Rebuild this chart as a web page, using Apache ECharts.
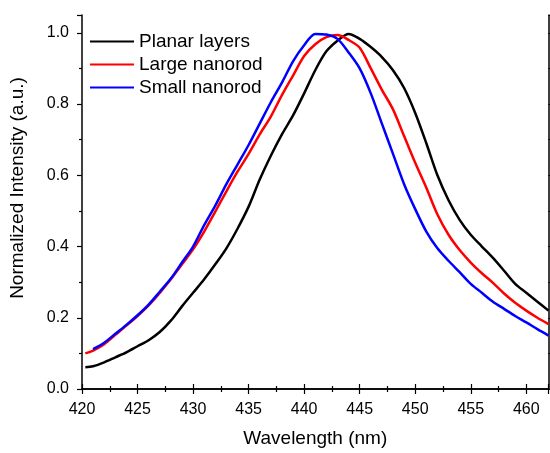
<!DOCTYPE html>
<html>
<head>
<meta charset="utf-8">
<script src="https://cdn.jsdelivr.net/npm/echarts@6/dist/echarts.min.js"></script>
<style>
  html, body { margin: 0; padding: 0; background: #fff; }
  #chart { width: 550px; height: 453px; }
</style>
</head>
<body>
<div id="chart"></div>
<script>
// wavelengths (nm)
const wavelengths = [420.3, 421, 422, 423, 424, 425, 426, 427, 428, 429, 430, 431, 432, 433, 434, 435, 436, 437, 438, 439, 440,
  441, 442, 443, 444, 445, 446, 447, 448, 449, 450, 451, 452, 453, 454, 455, 456, 457, 458, 459, 460, 461, 462]

const planarLayers = [0.061, 0.064, 0.075, 0.089, 0.103, 0.120, 0.137, 0.160, 0.192, 0.232, 0.270, 0.308, 0.350, 0.395, 0.450, 0.512, 0.588, 0.655, 0.715, 0.768, 0.830,
  0.895, 0.948, 0.978, 0.997, 0.983, 0.960, 0.932, 0.895, 0.845, 0.775, 0.690, 0.600, 0.530, 0.475, 0.433, 0.400, 0.368, 0.332, 0.295, 0.270, 0.245, 0.220]

const largeNanorod = [0.100, 0.108, 0.126, 0.152, 0.178, 0.205, 0.235, 0.270, 0.308, 0.350, 0.392, 0.442, 0.498, 0.555, 0.610, 0.660, 0.715, 0.765, 0.825, 0.880, 0.935,
  0.968, 0.988, 0.994, 0.980, 0.958, 0.900, 0.840, 0.785, 0.710, 0.635, 0.565, 0.490, 0.433, 0.390, 0.355, 0.325, 0.298, 0.268, 0.242, 0.220, 0.200, 0.182]

const smallNanorod = [null, 0.112, 0.130, 0.155, 0.180, 0.207, 0.237, 0.273, 0.310, 0.355, 0.400, 0.460, 0.515, 0.575, 0.630, 0.685, 0.745, 0.805, 0.860, 0.920, 0.965,
  0.997, 0.995, 0.983, 0.945, 0.900, 0.830, 0.745, 0.660, 0.575, 0.505, 0.442, 0.395, 0.360, 0.328, 0.295, 0.270, 0.245, 0.225, 0.205, 0.187, 0.168, 0.150]

const seriesNames = ['Planar layers', 'Large nanorod', 'Small nanorod']
const seriesColors = ['#000000', '#ff0000', '#0000ff']

function toPairs(values) {
  const out = []
  values.forEach((v, i) => {
    if (v !== null) out.push([wavelengths[i], v])
  })
  return out
}

const chart = echarts.init(document.getElementById('chart'))
const font = 'Arial, "Liberation Sans", sans-serif'

const axisLine = { lineStyle: { color: '#000', width: 1.5 } }
const tick = { show: true, length: 5, lineStyle: { color: '#000', width: 1.2 } }
const minor = { show: true, splitNumber: 2, length: 3, lineStyle: { color: '#000', width: 1.2 } }

const option = {
  backgroundColor: '#fff',
  animation: false,
  textStyle: { fontFamily: font },
  grid: { left: 82, right: 1.5, top: 15, bottom: 61 },
  legend: {
    orient: 'vertical',
    left: 84,
    top: 27,
    itemWidth: 44,
    itemHeight: 14,
    itemGap: 4,
    itemStyle: { opacity: 0 },
    textStyle: { fontSize: 19, color: '#000', fontFamily: font },
    data: seriesNames
  },
  xAxis: [
    {
      type: 'value',
      min: 420,
      max: 462,
      interval: 5,
      name: 'Wavelength (nm)',
      nameLocation: 'middle',
      nameGap: 40,
      nameTextStyle: { fontSize: 19, color: '#000' },
      axisLine: axisLine,
      axisTick: tick,
      minorTick: minor,
      splitLine: { show: false },
      axisLabel: { fontSize: 16, color: '#000', margin: 13, showMaxLabel: false }
    },
    {
      type: 'value',
      position: 'top',
      min: 420,
      max: 462,
      interval: 5,
      axisLine: axisLine,
      axisTick: tick,
      minorTick: minor,
      splitLine: { show: false },
      axisLabel: { show: false }
    }
  ],
  yAxis: [
    {
      type: 'value',
      min: 0,
      max: 1.05,
      interval: 0.2,
      name: 'Normalized Intensity (a.u.)',
      nameLocation: 'middle',
      nameGap: 55,
      nameTextStyle: { fontSize: 19, color: '#000', padding: [0, 0, 0, 28] },
      axisLine: axisLine,
      axisTick: tick,
      minorTick: minor,
      splitLine: { show: false },
      axisLabel: {
        fontSize: 16,
        color: '#000',
        margin: 13,
        showMaxLabel: false,
        formatter: v => v.toFixed(1)
      }
    },
    {
      type: 'value',
      position: 'right',
      min: 0,
      max: 1.05,
      interval: 0.2,
      axisLine: axisLine,
      axisTick: tick,
      minorTick: minor,
      splitLine: { show: false },
      axisLabel: { show: false }
    }
  ],
  series: [planarLayers, largeNanorod, smallNanorod].map((vals, i) => ({
    name: seriesNames[i],
    type: 'line',
    xAxisIndex: 0,
    yAxisIndex: 0,
    data: toPairs(vals),
    smooth: 0.3,
    symbol: 'none',
    color: seriesColors[i],
    lineStyle: { color: seriesColors[i], width: 2.5 }
  }))
}

chart.setOption(option)
</script>
</body>
</html>
